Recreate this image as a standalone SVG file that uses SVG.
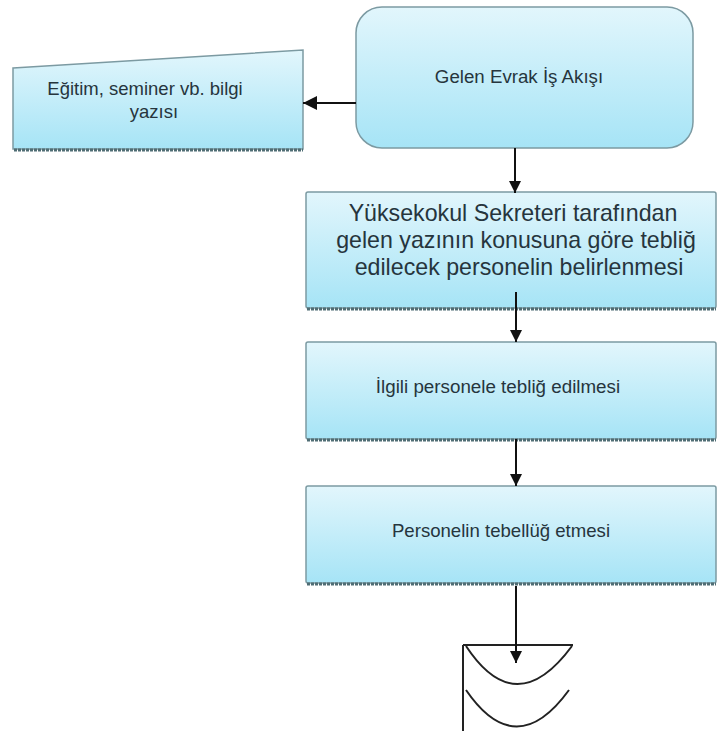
<svg xmlns="http://www.w3.org/2000/svg" width="718" height="733" viewBox="0 0 718 733">
  <defs>
    <linearGradient id="fillGrad" x1="0" y1="0" x2="0" y2="1">
      <stop offset="0" stop-color="#e2f6fc"/>
      <stop offset="1" stop-color="#a6e4f6"/>
    </linearGradient>
    <marker id="arrow" viewBox="0 0 12 12" refX="12" refY="6" markerWidth="12" markerHeight="12" markerUnits="userSpaceOnUse" orient="auto">
      <path d="M0,0 L12,6 L0,12 z" fill="#111"/>
    </marker>
    <marker id="arrowL" viewBox="0 0 14 14" refX="14" refY="7" markerWidth="14" markerHeight="14" markerUnits="userSpaceOnUse" orient="auto">
      <path d="M0,0 L14,7 L0,14 z" fill="#111"/>
    </marker>
  </defs>
  <style>
    .shape { fill: url(#fillGrad); stroke: #7c9aa2; stroke-width: 1.5; }
    .shadow { stroke: #4f6d74; stroke-width: 3; stroke-dasharray: 3 1; fill: none; }
    .label { font-family: "Liberation Sans", Arial, sans-serif; fill: #26353d; text-anchor: middle; }
    .edge { stroke: #111; stroke-width: 2; fill: none; }
    .sym { stroke: #222; stroke-width: 2; fill: none; }
  </style>

  <rect width="718" height="733" fill="#ffffff"/>

  <!-- manual input: training / seminar notice -->
  <g id="node-info">
    <polygon class="shape" points="13,68 303,50 303,149 13,149"/>
    <line class="shadow" x1="14" y1="150" x2="303" y2="150"/>
    <text class="label" font-size="18.5" x="145" y="95">Eğitim, seminer vb. bilgi</text>
    <text class="label" font-size="18.5" x="154" y="118">yazısı</text>
  </g>

  <!-- start: incoming document flow -->
  <g id="node-start">
    <rect class="shape" x="356" y="7" width="337" height="141" rx="26" ry="26"/>
    <text class="label" font-size="18.7" x="519" y="83">Gelen Evrak İş Akışı</text>
  </g>

  <!-- step: determine personnel -->
  <g id="node-determine">
    <rect class="shape" x="306" y="192" width="410" height="116" rx="2"/>
    <line class="shadow" x1="307" y1="309" x2="716" y2="309"/>
    <text class="label" font-size="23.2" x="513" y="221">Yüksekokul Sekreteri tarafından</text>
    <text class="label" font-size="23.2" x="516" y="248">gelen yazının konusuna göre tebliğ</text>
    <text class="label" font-size="23.2" x="519" y="275">edilecek personelin belirlenmesi</text>
  </g>

  <!-- step: notify personnel -->
  <g id="node-notify">
    <rect class="shape" x="306" y="342" width="410" height="97" rx="2"/>
    <line class="shadow" x1="307" y1="440" x2="716" y2="440"/>
    <text class="label" font-size="18.8" x="498" y="393">İlgili personele tebliğ edilmesi</text>
  </g>

  <!-- step: acknowledgement -->
  <g id="node-ack">
    <rect class="shape" x="306" y="486" width="410" height="97" rx="2"/>
    <line class="shadow" x1="307" y1="584" x2="716" y2="584"/>
    <text class="label" font-size="18.6" x="501" y="537">Personelin tebellüğ etmesi</text>
  </g>

  <!-- archive symbol -->
  <g id="node-archive">
    <line class="sym" x1="463" y1="645" x2="463" y2="731" stroke="#777" stroke-width="1.5"/>
    <line class="sym" x1="463" y1="645" x2="573" y2="645" stroke="#555" stroke-width="1.5"/>
    <path class="sym" d="M466,646 Q516,722 572,646"/>
    <path class="sym" d="M466,690 Q516,763 569,690"/>
  </g>

  <!-- connectors -->
  <g id="connectors">
    <line class="edge" x1="356" y1="103" x2="303" y2="103" stroke-width="3" marker-end="url(#arrowL)"/>
    <line class="edge" x1="515" y1="148" x2="515" y2="193" marker-end="url(#arrow)"/>
    <line class="edge" x1="516" y1="292" x2="516" y2="342" marker-end="url(#arrow)"/>
    <line class="edge" x1="516" y1="439" x2="516" y2="486" marker-end="url(#arrow)"/>
    <line class="edge" x1="516" y1="586" x2="516" y2="663" marker-end="url(#arrow)"/>
  </g>
</svg>
